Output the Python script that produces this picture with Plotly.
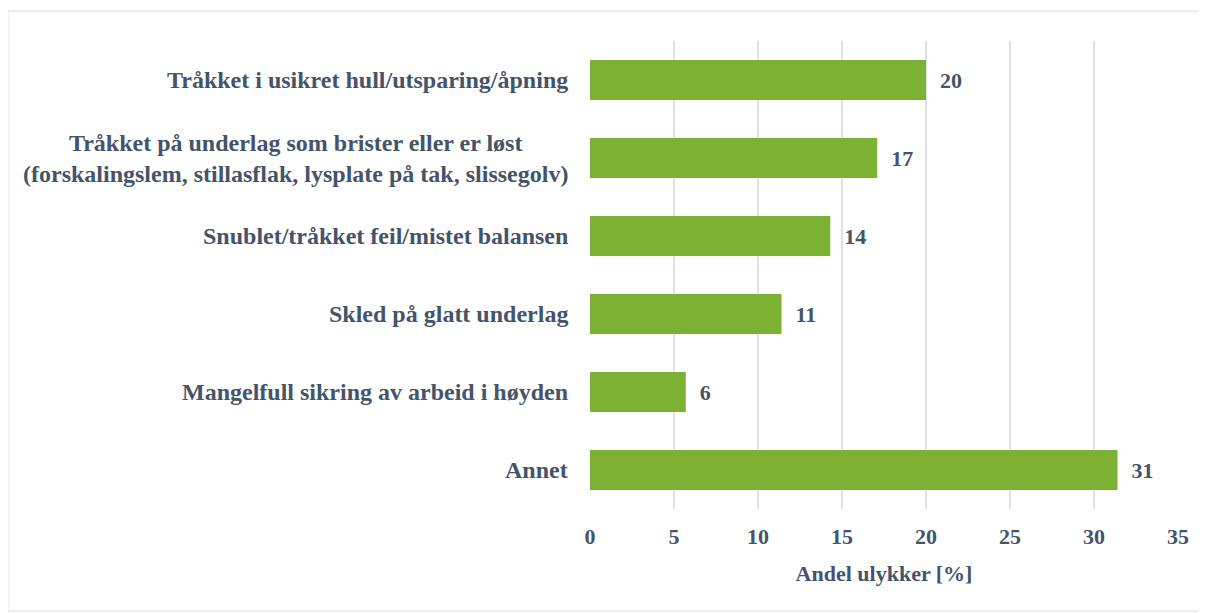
import plotly.graph_objects as go

TEXT_COLOR = "#44546a"
BAR_GREEN = "#7db134"
GRID_GRAY = "#dde1e8"
FONT = "Liberation Serif"

# category labels, top to bottom
categories = [
    "Tråkket i usikret hull/utsparing/åpning",
    "Tråkket på underlag som brister eller er løst<br>(forskalingslem, stillasflak, lysplate på tak, slissegolv)",
    "Snublet/tråkket feil/mistet balansen",
    "Skled på glatt underlag",
    "Mangelfull sikring av arbeid i høyden",
    "Annet",
]
# share of accidents in percent
shares = [20.0, 17.1, 14.3, 11.4, 5.7, 31.4]
x_ticks = [0, 5, 10, 15, 20, 25, 30, 35]

label_font = {"family": FONT, "size": 22, "color": TEXT_COLOR, "weight": "bold"}

fig = go.Figure()
fig.add_trace(
    go.Bar(
        y=categories,
        x=shares,
        orientation="h",
        width=0.51,
        marker={"color": BAR_GREEN, "line": {"width": 0}},
        texttemplate="\u00a0\u00a0%{x:.0f}",
        textposition="outside",
        cliponaxis=False,
        textfont=label_font,
        hoverinfo="x+y",
    )
)

# centred multi-line category labels
for cat in categories:
    fig.add_annotation(
        x=0,
        xref="paper",
        y=cat,
        yref="y",
        text=cat,
        showarrow=False,
        xanchor="right",
        xshift=-20,
        align="center",
        font={**label_font, "size": 24},
    )

# light frame around the chart area
fig.add_shape(
    type="rect",
    xref="paper",
    yref="paper",
    x0=-0.99,
    x1=1.046,
    y0=-0.218,
    y1=1.064,
    line={"color": "#d9d9d9", "width": 1},
    fillcolor="rgba(0,0,0,0)",
    layer="below",
)

fig.update_layout(
    width=1199,
    height=605,
    margin={"l": 582, "r": 29, "t": 33, "b": 104},
    plot_bgcolor="white",
    paper_bgcolor="white",
    showlegend=False,
    xaxis={
        "range": [0, 35],
        "tickvals": x_ticks,
        "showgrid": True,
        "gridcolor": GRID_GRAY,
        "gridwidth": 1.5,
        "zeroline": False,
        "ticks": "",
        "ticklabelstandoff": 12,
        "tickfont": label_font,
        "title": {
            "text": "Andel ulykker [%]",
            "font": label_font,
            "standoff": 17,
        },
    },
    yaxis={
        "categoryorder": "array",
        "categoryarray": categories[::-1],
        "showticklabels": False,
        "showgrid": False,
        "zeroline": False,
        "ticks": "",
    },
)

fig.write_html("out.html")
